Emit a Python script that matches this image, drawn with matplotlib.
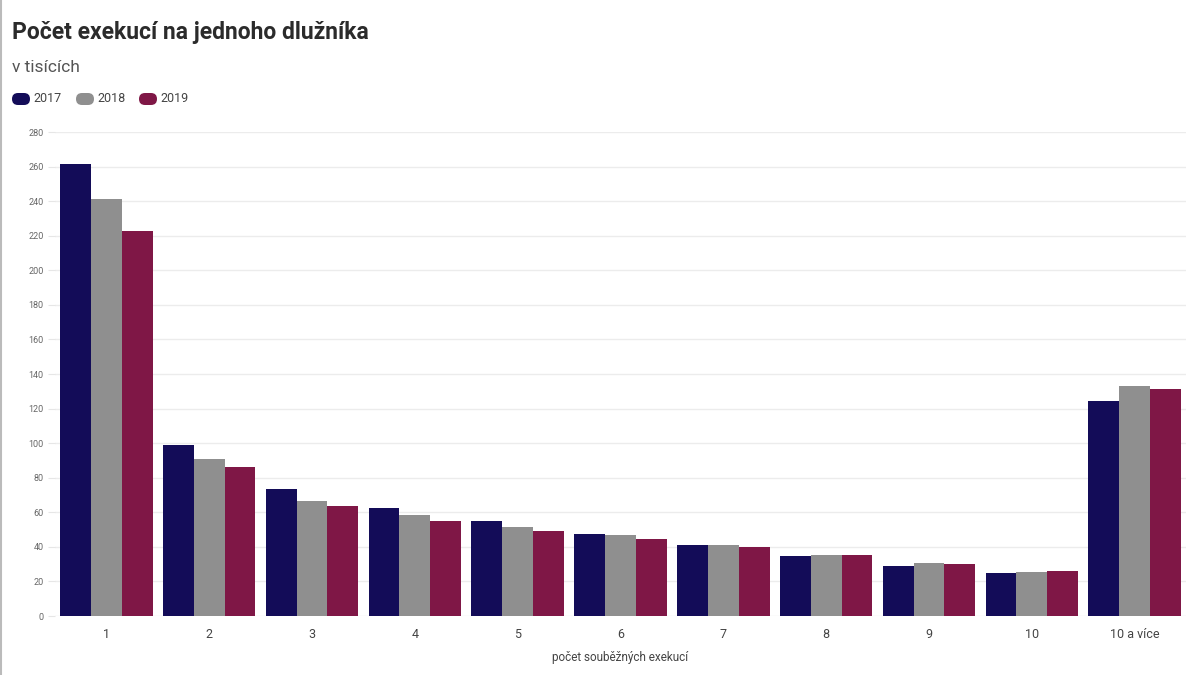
import matplotlib.pyplot as plt
import numpy as np
from matplotlib.patches import FancyBboxPatch

# Počet exekucí na jednoho dlužníka (v tisících)
categories = ['1', '2', '3', '4', '5', '6', '7', '8', '9', '10', '10 a více']
years = ['2017', '2018', '2019']
v2017 = [261.5, 99.2, 73.5, 62.5, 55.0, 47.4, 41.0, 34.9, 29.1, 24.7, 124.4]
v2018 = [241.2, 90.8, 66.5, 58.4, 51.5, 47.0, 40.9, 35.3, 30.5, 25.6, 133.2]
v2019 = [222.9, 86.2, 63.4, 55.0, 49.2, 44.5, 39.7, 35.1, 30.1, 25.8, 131.3]
colors = ['#130c58', '#8f8f8f', '#7f1746']

plt.rcParams['font.family'] = ['Roboto', 'DejaVu Sans']

fig = plt.figure(figsize=(12, 6.75), dpi=100)
ax = fig.add_axes([55 / 1200, 1 - 616 / 675, 1131 / 1200, 484 / 675])

x = np.arange(len(categories))
w = 0.3
for i, (vals, c) in enumerate(zip([v2017, v2018, v2019], colors)):
    ax.bar(x + (i - 1) * w, vals, width=w, color=c, zorder=3)

ax.set_xlim(-0.5, len(categories) - 0.5)
ax.set_ylim(0, 280)
ax.set_yticks(range(0, 281, 20))
ax.grid(axis='y', color='#ececec', linewidth=1, zorder=0)
for s in ax.spines.values():
    s.set_visible(False)
ax.tick_params(axis='y', length=5, color='#e6e6e6', labelsize=6.5, labelcolor='#666666', pad=3)
ax.tick_params(axis='x', length=0, labelsize=9, labelcolor='#444444', pad=9)
ax.set_xticks(x)
ax.set_xticklabels(categories)
ax.set_xlabel('počet souběžných exekucí', fontsize=8.5, color='#444444', labelpad=7)

fig.text(12 / 1200, 1 - 39 / 675, 'Počet exekucí na jednoho dlužníka', fontsize=16.5,
         fontweight='bold', color='#2b2b2b', va='baseline')
fig.text(12 / 1200, 1 - 72 / 675, 'v tisících', fontsize=12.5, color='#555555', va='baseline')

# legend pills
pill_x = [12, 76, 139]
for px, yr, c in zip(pill_x, years, colors):
    fig.add_artist(FancyBboxPatch((px / 100, (675 - 105) / 100), 0.18, 0.12,
                                  boxstyle='round,pad=0,rounding_size=0.06',
                                  transform=fig.dpi_scale_trans, color=c, lw=0))
    fig.text((px + 21) / 1200, 1 - 99 / 675, yr, fontsize=9, color='#444444', va='center')

fig.add_artist(plt.Line2D([1 / 1200, 1 / 1200], [0, 1], color='#bbbbbb', lw=1.5,
                          transform=fig.transFigure))

fig.savefig('out.png', dpi=100)
